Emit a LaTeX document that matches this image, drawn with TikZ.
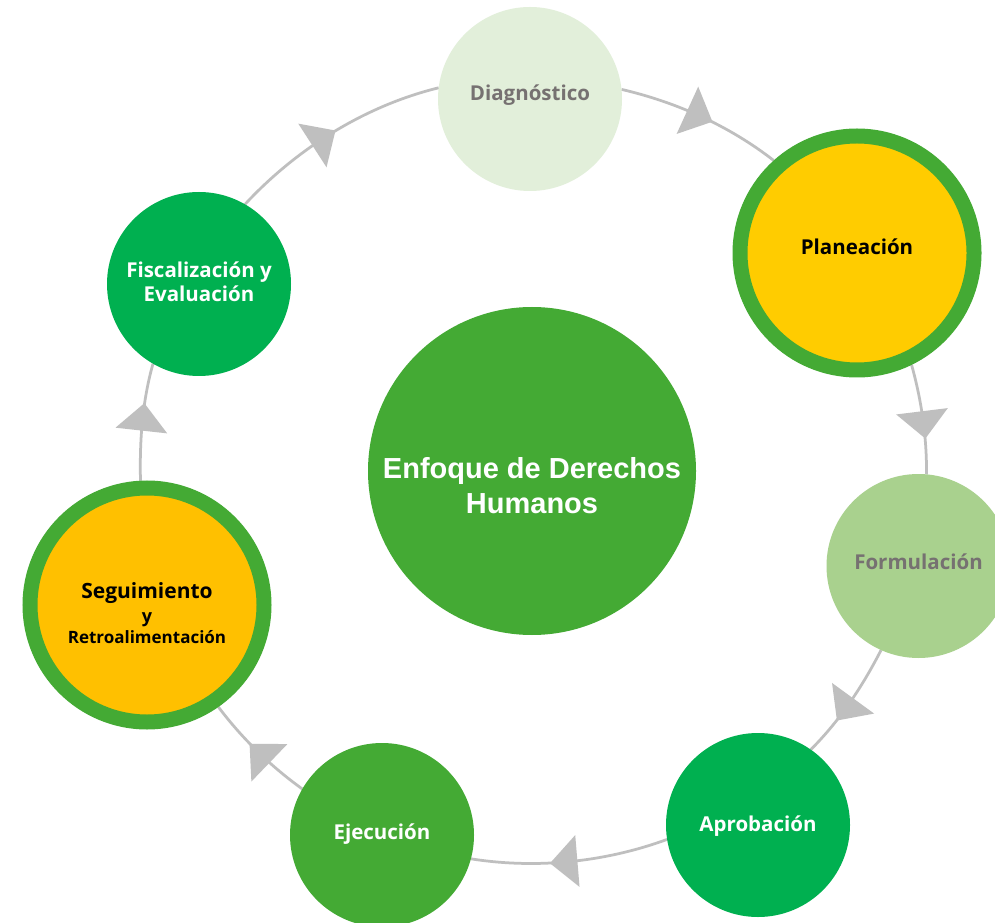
\documentclass[tikz,border=0pt]{standalone}
\usepackage{fontspec}
\setmainfont{Open Sans}
\newfontfamily\corefont{Liberation Sans}
\usetikzlibrary{decorations.markings,backgrounds}
\definecolor{ringgreen}{HTML}{44AA34}
\definecolor{brightgreen}{HTML}{00B050}
\definecolor{lightgreen}{HTML}{E2EFDA}
\definecolor{midgreen}{HTML}{A9D18E}
\definecolor{goldA}{HTML}{FFCC00}
\definecolor{goldB}{HTML}{FFC000}
\definecolor{textgray}{HTML}{767171}
\definecolor{arcgray}{HTML}{BFBFBF}
\tikzset{
  stage/.style={circle, inner sep=0pt, outer sep=0pt, minimum size=184pt},
  ringed/.style={circle, inner sep=0pt, minimum size=234pt, line width=15pt, draw=ringgreen, outer sep=7.5pt},
  lbl/.style={font=\bfseries\fontsize{20.5}{24}\selectfont, text height=0pt, text depth=0pt, inner sep=0pt},
  corelbl/.style={font=\corefont\bfseries\fontsize{29}{35}\selectfont, text=white, text height=0pt, text depth=0pt, inner sep=0pt},
  ringarc/.style={draw=arcgray, line width=2.75pt, looseness=0.86},
  flowarrow/.style={postaction={decorate, decoration={markings,
      mark=at position #1 with {\fill[arcgray] (13.75pt,0pt) -- (-13.75pt,26pt) -- (-13.75pt,-26pt) -- cycle;}}}}
}
\begin{document}
\begin{tikzpicture}[x=1pt,y=1pt]
\useasboundingbox (0,0) rectangle (995,922);
\clip (0,0) rectangle (995,922);

\node[circle, inner sep=0pt, outer sep=0pt, minimum size=328pt, fill=ringgreen,
  label={[corelbl, yshift=-7pt]center:Enfoque de Derechos},
  label={[corelbl, yshift=-42pt]center:Humanos}] (core) at (532,451) {};

\node[stage, fill=lightgreen,
  label={[lbl, text=textgray, yshift=-1.7pt]center:Diagnóstico}] (diag) at (530,823) {};
\node[ringed, fill=goldA,
  label={[lbl, text=black, yshift=-2pt]center:Planeación}] (plan) at (857,669) {};
\node[stage, fill=midgreen,
  label={[lbl, text=textgray, yshift=-3pt]center:Formulación}] (form) at (918.5,356) {};
\node[stage, fill=brightgreen,
  label={[lbl, text=white, yshift=-6.3pt]center:Aprobación}] (apro) at (758,97) {};
\node[stage, fill=ringgreen,
  label={[lbl, text=white, yshift=-4.3pt]center:Ejecución}] (ejec) at (382,87) {};
\node[ringed, fill=goldB,
  label={[lbl, text=black, font=\bfseries\fontsize{21}{24}\selectfont, yshift=6.7pt]center:Seguimiento},
  label={[lbl, text=black, font=\bfseries\fontsize{18}{22}\selectfont, yshift=-17.7pt]center:y},
  label={[lbl, text=black, font=\bfseries\fontsize{17}{20}\selectfont, yshift=-38.3pt]center:Retroalimentación}] (segu) at (147,317) {};
\node[stage, fill=brightgreen,
  label={[lbl, text=white, yshift=6.7pt]center:Fiscalización y},
  label={[lbl, text=white, yshift=-17.7pt]center:Evaluación}] (fisc) at (199,638) {};

\begin{scope}[on background layer]
\fill[white] (0,0) rectangle (995,922);
\draw[ringarc, flowarrow=0.49] (diag.6.7) to[out=-13.15, in=142.1] (plan.132.2);
\draw[ringarc, flowarrow=0.553] (plan.-64.5) to[out=-74.4, in=89.53] (form.85.95);
\draw[ringarc, flowarrow=0.568] (form.246.4) to[out=-117.15, in=44.98] (apro.55.7);
\draw[ringarc, flowarrow=0.533] (apro.189.4) to[out=-159.88, in=-8.97] (ejec.-15.3);
\draw[ringarc, flowarrow=0.474] (ejec.150.45) to[out=144.17, in=-53] (segu.-55.25);
\draw[ringarc, flowarrow=0.541] (segu.93.6) to[out=91.38, in=254.22] (fisc.240.57);
\draw[ringarc, flowarrow=0.451] (fisc.60.8) to[out=47.16, in=193.75] (diag.173.9);
\end{scope}
\end{tikzpicture}
\end{document}
